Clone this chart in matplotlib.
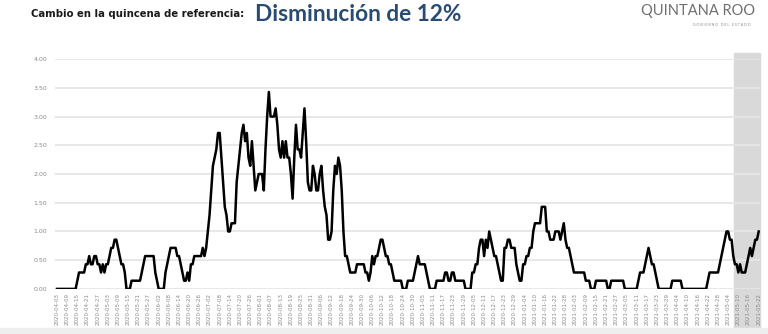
import matplotlib
matplotlib.use("Agg")
import matplotlib.pyplot as plt
import matplotlib.transforms as mtransforms
from matplotlib.patches import Rectangle
import pandas as pd

# casos acumulados en 7 dias (se grafica el promedio diario)
fecha_inicio = "2020-04-03"
fecha_fin = "2021-05-22"
suma_7d = [
    0, 0, 0, 0, 0, 0, 0, 0, 0, 0,
    0, 0, 1, 2, 2, 2, 2, 3, 3, 4,
    3, 3, 4, 4, 3, 3, 2, 3, 2, 3,
    3, 4, 5, 5, 6, 6, 5, 4, 3, 3,
    2, 0, 0, 0, 1, 1, 1, 1, 1, 1,
    2, 3, 4, 4, 4, 4, 4, 4, 2, 1,
    0, 0, 0, 0, 2, 3, 4, 5, 5, 5,
    5, 4, 4, 3, 2, 1, 1, 2, 1, 3,
    3, 4, 4, 4, 4, 4, 5, 4, 5, 7,
    9, 12, 15, 16, 17, 19, 19, 16, 13, 10,
    9, 7, 7, 8, 8, 8, 13, 15, 17, 19,
    20, 18, 19, 16, 15, 18, 15, 12, 13, 14,
    14, 14, 12, 17, 21, 24, 21, 21, 21, 22,
    20, 17, 16, 18, 16, 18, 16, 16, 14, 11,
    16, 20, 17, 17, 16, 19, 22, 18, 13, 12,
    12, 15, 14, 12, 12, 14, 15, 12, 10, 9,
    6, 6, 7, 12, 15, 14, 16, 15, 12, 7,
    4, 4, 3, 2, 2, 2, 2, 3, 3, 3,
    3, 3, 2, 2, 1, 2, 4, 3, 4, 4,
    5, 6, 6, 5, 4, 4, 3, 3, 2, 1,
    1, 1, 1, 1, 0, 0, 0, 1, 1, 1,
    1, 2, 3, 4, 3, 3, 3, 3, 2, 1,
    0, 0, 0, 0, 1, 1, 1, 1, 1, 2,
    2, 1, 1, 2, 2, 1, 1, 1, 1, 1,
    1, 0, 0, 0, 0, 2, 2, 3, 3, 5,
    6, 6, 4, 6, 5, 7, 6, 5, 4, 4,
    3, 2, 1, 1, 5, 5, 6, 6, 5, 5,
    5, 3, 2, 1, 1, 3, 3, 4, 4, 5,
    5, 7, 8, 8, 8, 8, 10, 10, 10, 7,
    7, 6, 6, 6, 7, 7, 7, 6, 7, 8,
    6, 5, 5, 4, 3, 2, 2, 2, 2, 2,
    2, 2, 1, 1, 1, 0, 0, 0, 1, 1,
    1, 1, 1, 1, 1, 0, 0, 1, 1, 1,
    1, 1, 1, 1, 1, 0, 0, 0, 0, 0,
    0, 0, 0, 1, 2, 2, 2, 3, 4, 5,
    4, 3, 3, 2, 1, 0, 0, 0, 0, 0,
    0, 0, 0, 1, 1, 1, 1, 1, 1, 0,
    0, 0, 0, 0, 0, 0, 0, 0, 0, 0,
    0, 0, 0, 0, 1, 2, 2, 2, 2, 2,
    2, 3, 4, 5, 6, 7, 7, 6, 6, 4,
    3, 3, 2, 3, 2, 2, 2, 3, 4, 5,
    4, 5, 6, 6, 7,
]
quincena_inicio = "2021-05-08"
y_ticks = [0, 0.5, 1, 1.5, 2, 2.5, 3, 3.5, 4]

fechas = pd.date_range(fecha_inicio, fecha_fin, freq="D")
promedio = [v / 7 for v in suma_7d]
x = list(range(len(fechas)))

fig = plt.figure(figsize=(7.68, 3.34), dpi=100)
ax = fig.add_axes([0.072, 0.135, 0.917, 0.688])

ax.plot(x, promedio, color="black", lw=1.8, zorder=3)

# franja gris de la quincena de referencia
i0 = fechas.get_loc(pd.Timestamp(quincena_inicio)) - 0.5
trans = mtransforms.blended_transform_factory(ax.transData, fig.transFigure)
fig.patches.append(Rectangle((i0, 0.0), len(fechas) - 0.2 - i0, 0.84,
                             transform=trans, color="#d9d9d9", zorder=0))
fig.patches.append(Rectangle((0, 0), 1, 0.018, transform=fig.transFigure,
                             color="#eeeeee", zorder=0))
ax.set_zorder(1)
ax.patch.set_alpha(0)

ax.set_ylim(0, 4)
ax.set_xlim(-1, len(fechas) - 0.5)
ax.set_yticks(y_ticks)
ax.set_yticklabels(["%.2f" % v for v in y_ticks])
ax.set_xticks(x[::6])
ax.set_xticklabels([f.strftime("%Y-%m-%d") for f in fechas[::6]], rotation=90)
ax.tick_params(axis="y", labelsize=4.5, colors="#8a8a8a", length=0, pad=6)
ax.tick_params(axis="x", labelsize=4, colors="#8a8a8a", length=0, pad=3)
ax.grid(axis="y", color="#e6e6e6", lw=1.3)
ax.set_axisbelow(True)
for s in ax.spines.values():
    s.set_visible(False)

fig.text(0.04, 0.957, "Cambio en la quincena de referencia:", fontsize=7.3,
         fontweight="bold", color="#1a1a1a", va="center", family="DejaVu Sans")
fig.text(0.332, 0.957, "Disminución de 12%", fontsize=16.3, fontweight="bold",
         color="#274b72", va="center", family="Lato")
fig.text(0.983, 0.967, "QUINTANA ROO", fontsize=10.5, color="#6f6f6f",
         ha="right", va="center", family="Lato")
fig.text(0.978, 0.925, "G O B I E R N O   D E L   E S T A D O", fontsize=2.6,
         color="#8a8a8a", ha="right", va="center", family="Lato")

fig.savefig("out.png", dpi=100)
